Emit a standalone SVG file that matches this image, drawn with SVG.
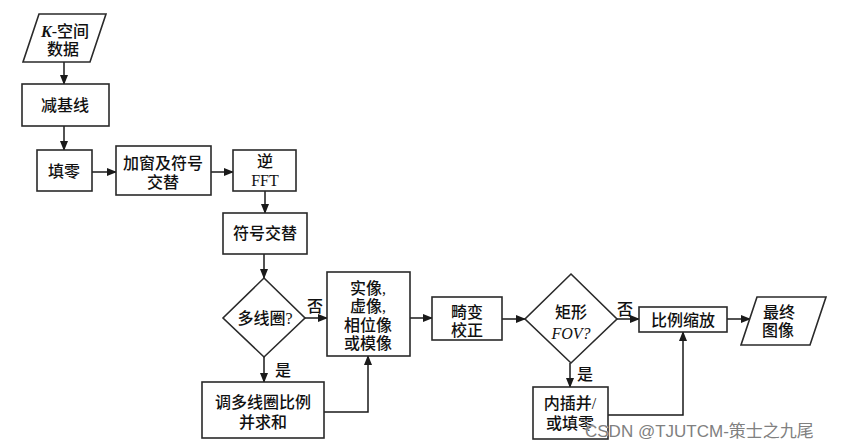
<svg xmlns="http://www.w3.org/2000/svg" width="847" height="448" viewBox="0 0 847 448">
<defs>
<marker id="ah" markerUnits="userSpaceOnUse" markerWidth="10" markerHeight="8" refX="9" refY="4" orient="auto">
<path d="M0,0 L10,4 L0,8 Z" fill="#1a1a1a"/>
</marker>
<style>
.s{fill:#fff;stroke:#2a2a2a;stroke-width:1.6}
.t{font-family:"Liberation Serif","Noto Sans CJK SC",serif;font-size:16px;font-weight:500;fill:#111;text-anchor:middle;dominant-baseline:central}
.c{fill:none;stroke:#1a1a1a;stroke-width:1.5;marker-end:url(#ah)}
.w{font-family:"Liberation Sans","Noto Sans CJK SC",sans-serif;font-size:17px;fill:#808080;stroke:#fff;stroke-width:0.6;paint-order:stroke}
</style>
</defs>
<rect width="847" height="448" fill="#fff"/>
<g id="connectors">
<path class="c" d="M64,62 V84"/>
<path class="c" d="M64,126 V150"/>
<path class="c" d="M92,172 H116"/>
<path class="c" d="M211,172 H233"/>
<path class="c" d="M265,191 V213"/>
<path class="c" d="M264,254 V278"/>
<path class="c" d="M305,318 H327"/>
<path class="c" d="M264,357 V382"/>
<path class="c" d="M324,412 H368 V356"/>
<path class="c" d="M410,318 H432"/>
<path class="c" d="M502,319 H525"/>
<path class="c" d="M617,319 H639"/>
<path class="c" d="M570,363 V387"/>
<path class="c" d="M608,415 H683 V332"/>
<path class="c" d="M727,319 H750"/>
</g>
<g id="kspace">
<polygon class="s" points="39,14 106,14 90,62 23,62"/>
<text class="t" x="65" y="31"><tspan font-style="italic" font-weight="bold">K</tspan>-空间</text>
<text class="t" x="63" y="49">数据</text>
</g>
<g id="baseline">
<rect class="s" x="22" y="84" width="87" height="42"/>
<text class="t" x="65" y="105">减基线</text>
</g>
<g id="zerofill">
<rect class="s" x="37" y="150" width="55" height="41"/>
<text class="t" x="64" y="171">填零</text>
</g>
<g id="window">
<rect class="s" x="116" y="146" width="95" height="49"/>
<text class="t" x="163" y="163">加窗及符号</text>
<text class="t" x="163" y="182">交替</text>
</g>
<g id="ifft">
<rect class="s" x="233" y="150" width="63" height="41"/>
<text class="t" x="265" y="161">逆</text>
<text class="t" x="265" y="180">FFT</text>
</g>
<g id="signalt">
<rect class="s" x="223" y="213" width="84" height="41"/>
<text class="t" x="265" y="233">符号交替</text>
</g>
<g id="multicoil">
<polygon class="s" points="264,278 305,318 264,357 223,318"/>
<text class="t" x="265" y="318">多线圈?</text>
<text class="t" x="315" y="306">否</text>
<text class="t" x="283" y="370">是</text>
</g>
<g id="coilsum">
<rect class="s" x="202" y="382" width="122" height="56"/>
<text class="t" x="263" y="402">调多线圈比例</text>
<text class="t" x="263" y="422">并求和</text>
</g>
<g id="images">
<rect class="s" x="327" y="272" width="83" height="84"/>
<text class="t" x="368" y="288">实像,</text>
<text class="t" x="368" y="306">虚像,</text>
<text class="t" x="368" y="325">相位像</text>
<text class="t" x="368" y="343">或模像</text>
</g>
<g id="distort">
<rect class="s" x="432" y="297" width="70" height="43"/>
<text class="t" x="467" y="312">畸变</text>
<text class="t" x="467" y="330">校正</text>
</g>
<g id="rectfov">
<polygon class="s" points="571,274 617,319 571,363 525,319"/>
<text class="t" x="571" y="312">矩形</text>
<text class="t" x="571" y="333" font-style="italic">FOV?</text>
<text class="t" x="625" y="309">否</text>
<text class="t" x="585" y="374">是</text>
</g>
<g id="interp">
<rect class="s" x="533" y="387" width="75" height="52"/>
<text class="t" x="570" y="403">内插并/</text>
<text class="t" x="570" y="423">或填零</text>
</g>
<g id="scale">
<rect class="s" x="639" y="307" width="88" height="25"/>
<text class="t" x="683" y="320">比例缩放</text>
</g>
<g id="final">
<polygon class="s" points="757,297 826,297 810,345 741,345"/>
<text class="t" x="779" y="312">最终</text>
<text class="t" x="778" y="330">图像</text>
</g>
<text class="w" x="585" y="437">CSDN @TJUTCM-策士之九尾</text>
</svg>
